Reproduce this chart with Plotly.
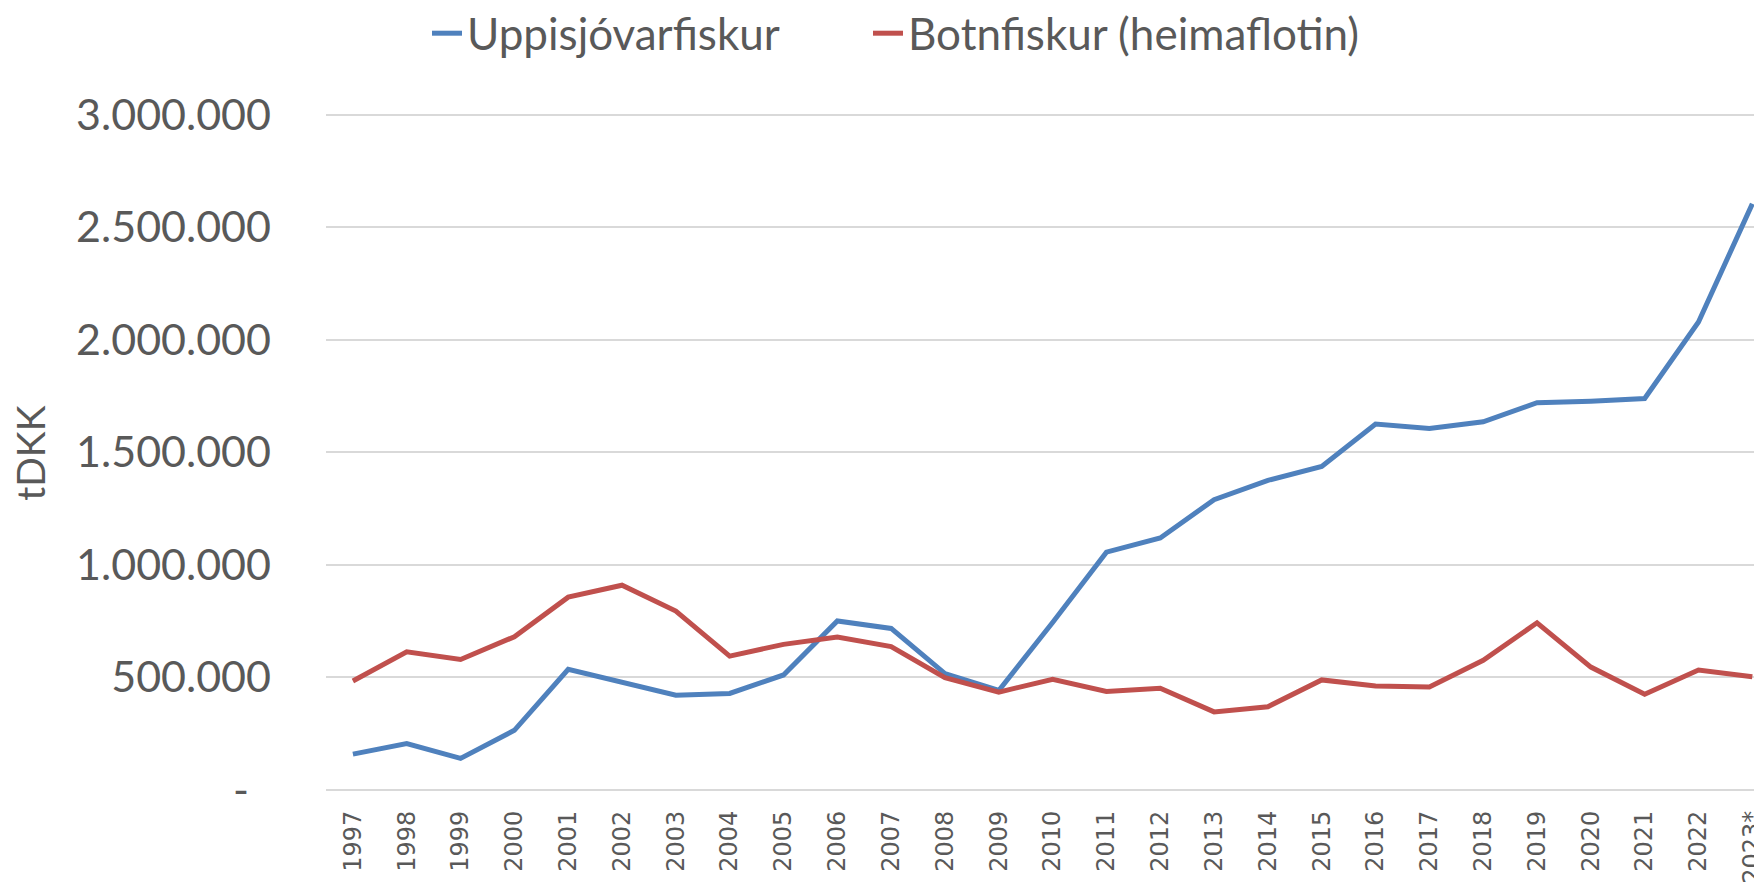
import plotly.graph_objects as go

years = ["1997", "1998", "1999", "2000", "2001", "2002", "2003", "2004", "2005",
         "2006", "2007", "2008", "2009", "2010", "2011", "2012", "2013", "2014",
         "2015", "2016", "2017", "2018", "2019", "2020", "2021", "2022", "2023*"]

uppisjovarfiskur = [157000, 204000, 138000, 263000, 534000, 475000, 419000, 427000, 509000,
                    749000, 716000, 515000, 440000, 742000, 1055000, 1118000, 1288000, 1374000,
                    1436000, 1624000, 1605000, 1634000, 1719000, 1726000, 1738000, 2078000, 2603000]

botnfiskur = [482000, 612000, 578000, 679000, 855000, 908000, 793000, 593000, 645000,
              678000, 635000, 497000, 433000, 490000, 436000, 450000, 345000, 368000,
              487000, 460000, 456000, 574000, 741000, 544000, 423000, 531000, 501000]

ytick_vals = [0, 500000, 1000000, 1500000, 2000000, 2500000, 3000000]
ytick_text = ["-\u00a0\u00a0", "500.000", "1.000.000", "1.500.000",
              "2.000.000", "2.500.000", "3.000.000"]
y_title = "tDKK"

series_names = ["Uppisjóvarfiskur", "Botnfiskur (heimaflotin)"]
colors = ["#4F81BD", "#C0504D"]
legend_ids = ["legend", "legend2"]

fig = go.Figure()
for name, vals, col, lg in zip(series_names, [uppisjovarfiskur, botnfiskur], colors, legend_ids):
    fig.add_trace(go.Scatter(
        x=list(range(len(years))), y=vals, name=name, mode="lines",
        line=dict(color=col, width=5, shape="linear"), legend=lg,
    ))

text_col = "#595959"
legend_common = dict(
    orientation="h", xanchor="left", yanchor="middle",
    xref="container", yref="paper", y=1.1117,
    font=dict(family="Lato", size=44, color=text_col),
    bgcolor="rgba(0,0,0,0)",
)
fig.update_layout(
    width=1762, height=882,
    margin=dict(l=318, r=8, t=101.5, b=95.5, autoexpand=False),
    paper_bgcolor="white", plot_bgcolor="white",
    font=dict(family="Lato", color=text_col),
    showlegend=True,
    legend=dict(x=419 / 1762, **legend_common),
    legend2=dict(x=860 / 1762, **legend_common),
    xaxis=dict(
        tickmode="array", tickvals=list(range(len(years))), ticktext=years,
        range=[-0.5, 26.18], tickangle=-90, automargin=False,
        tickfont=dict(family="DejaVu Sans", size=24, color=text_col),
        showgrid=False, zeroline=False, showline=False, ticks="",
        ticklabelstandoff=11,
    ),
    yaxis=dict(
        range=[-20000, 3020000], tickmode="array", tickvals=ytick_vals, ticktext=ytick_text,
        tickfont=dict(family="Lato", size=43, color=text_col), automargin=False,
        showgrid=True, gridcolor="#D9D9D9", gridwidth=1.5,
        zeroline=False, showline=False, ticks="",
        ticklabelstandoff=54,
    ),
    annotations=[dict(
        text=y_title, textangle=-90, xref="paper", yref="paper",
        x=(22 - 318) / 1436, y=0.4974, xanchor="center", yanchor="middle",
        showarrow=False, borderpad=0, font=dict(family="Lato", size=39, color=text_col),
    )],
)

fig.write_html("out.html")
